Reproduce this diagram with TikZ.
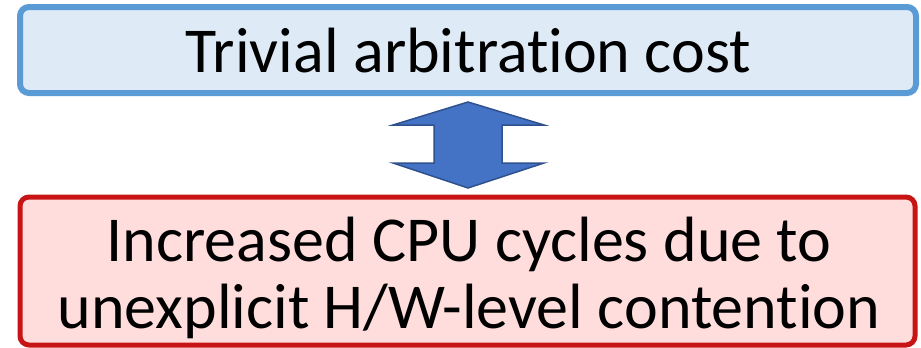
\documentclass[tikz,border=0pt]{standalone}
\usepackage{fontspec}
\setmainfont{Carlito}[Ligatures={NoCommon}]
\definecolor{topfill}{HTML}{DEEBF7}
\definecolor{topline}{HTML}{5B9BD5}
\definecolor{botfill}{HTML}{FFDDDD}
\definecolor{botline}{HTML}{C81414}
\definecolor{arrfill}{HTML}{4472C4}
\definecolor{arrline}{HTML}{2F528F}
\begin{document}
\begin{tikzpicture}[x=1pt,y=-1pt,
  panel/.style={draw, rounded corners=9pt, inner sep=0pt},
  caption/.style={font=\fontsize{64}{67}\selectfont, align=center, inner sep=0pt, text=black}]
\useasboundingbox (0,0) rectangle (921,348);
% upper panel
\node[panel, fill=topfill, draw=topline, line width=6pt,
      minimum width=896pt, minimum height=86pt] (upper) at (468,50) {};
\node[caption, anchor=base] (uppertxt) at (468.5,72) {Trivial arbitration cost};
% lower panel
\node[panel, fill=botfill, draw=botline, line width=5pt,
      minimum width=895pt, minimum height=148pt] (lower) at (467.5,271) {};
\node[caption, anchor=base] (lowerA) at (469,261) {Increased CPU cycles due to};
\node[caption, anchor=base] (lowerB) at (469,328) {unexplicit H/W-level contention};
% two-headed block arrow between the panels
\draw[fill=arrfill, draw=arrline, line width=1.5pt, line join=miter]
  (468,102) -- (544,125) -- (502,125) -- (502,163) -- (544,163) -- (468,188)
  -- (393,163) -- (434,163) -- (434,125) -- (393,125) -- cycle;
\end{tikzpicture}
\end{document}
